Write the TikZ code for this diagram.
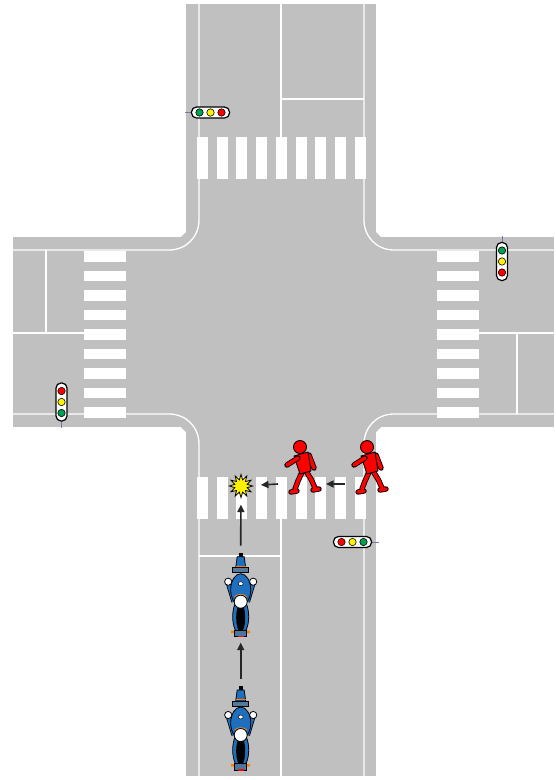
\documentclass[tikz,border=0pt]{standalone}
\usetikzlibrary{arrows.meta, shapes.geometric}
\definecolor{road}{RGB}{192,192,192}
\definecolor{lampgreen}{RGB}{0,160,80}
\definecolor{motoblue}{RGB}{30,112,190}
\definecolor{stemgray}{RGB}{120,120,160}

\tikzset{
  roadline/.style={white, line width=1.3pt},
  limb/.style={double=red, double distance=3.6pt, line width=0.9pt, line cap=round, line join=round},
  walkerbody/.style={fill=red, draw=black, line width=0.9pt, line join=round},
  motobody/.style={fill=motoblue, draw=black, line width=0.8pt},
  whitepart/.style={fill=white, draw=black, line width=0.8pt},
  flow/.style={-{Triangle[length=7.5pt,width=7pt]}, line width=1.6pt, black!85},
  % signal head, lamps counted from the stem side
  signal/.pic={
    \draw[stemgray, line width=0.8pt] (0,-19) -- (0,-26);
    \draw[fill=white, line width=1.2pt, rounded corners=5pt] (-5.5,-19) rectangle (5.5,19);
    \foreach \c/\p in {lampgreen/-11, yellow/0, red/11}
      \draw[fill=\c, line width=0.6pt] (0,\p) circle (3.7);
  },
  walker/.pic={
    \draw[limb] (9,8) -- (14,21);
    \draw[limb] (6,24) -- (11.5,33) -- (15,41) (13,43) -- (19,42);
    \draw[limb] (2,25) -- (-2,34) -- (-5,42) (-9,45) -- (-3,44);
    \draw[walkerbody] (-6,9) -- (8,5) -- (11,24) -- (0,27) -- cycle;
    \draw[limb] (-2,11) -- (-13,18);
    \draw[walkerbody] (0,0) circle (6.5);
    \coordinate (-ahead) at (-22,37);
    \coordinate (-behind) at (26,37);
  },
  moto/.pic={
    % rear half
    \draw[motobody] (0,15) ellipse (8 and 18);
    \fill[black] (0,16) ellipse (4.5 and 14.5);
    \fill[orange] (-9.5,29) rectangle (-6,31.5) (6,29) rectangle (9.5,31.5);
    \draw[fill=motoblue!55!gray, line width=0.6pt] (-6,28.5) rectangle (6,35);
    \fill[red] (-3,34) rectangle (3,35.5);
    % front fork and fairing
    \fill[black] (-1.8,-49) rectangle (1.8,-40);
    \draw[motobody] (-3.5,-45) -- (3.5,-45) -- (5,-34) -- (-5,-34) -- cycle;
    \draw[orange, line width=1pt] (-5,-35.5) -- (5,-35.5);
    \draw[fill=motoblue!45!gray, line width=0.8pt] (-8,-34) rectangle (8,-29);
    % rider
    \draw[double=motoblue, double distance=4pt, line width=0.8pt] (-12.5,-20) -- (-6.5,0) (12.5,-20) -- (6.5,0);
    \draw[motobody] (0,-12) ellipse (10 and 16);
    \draw[whitepart, line width=0.5pt] (0,-18) ellipse (2.5 and 2);
    \draw[orange, line width=1pt] (-6,-5) .. controls (-3,-8) and (3,-8) .. (6,-5);
    \draw[whitepart] (0,0) circle (6.5);
    \draw[whitepart] (-12.5,-20) circle (3.6) (12.5,-20) circle (3.6);
    \coordinate (-front) at (0,-56);
    \coordinate (-back) at (0,41);
  }
}

\begin{document}
\begin{tikzpicture}[x=1pt, y=-1pt]
  \useasboundingbox (0,0) rectangle (556,780);
  \fill[white] (0,0) rectangle (556,780);

  % roads, corners slightly cut
  \fill[road] (186,4) rectangle (376,776);
  \fill[road] (13,237) rectangle (554,427);
  \fill[road] (186,232) -- (181,237) -- (186,237) (376,232) -- (381,237) -- (376,237)
    (186,432) -- (181,427) -- (186,427) (376,432) -- (381,427) -- (376,427);

  % edge lines with rounded corners
  \draw[roadline] (199,4) -- (199,220) .. controls (199,237) and (186,250) .. (169,250) -- (13,250);
  \draw[roadline] (364,4) -- (364,220) .. controls (364,237) and (377,250) .. (394,250) -- (554,250);
  \draw[roadline] (13,414) -- (169,414) .. controls (186,414) and (199,427) .. (199,444) -- (199,776);
  \draw[roadline] (554,414) -- (394,414) .. controls (377,414) and (364,427) .. (364,444) -- (364,776);

  % centre and stop lines
  \draw[roadline] (281,4) -- (281,137) (281,99) -- (364,99);
  \draw[roadline] (281,519) -- (281,776) (199,556) -- (281,556);
  \draw[roadline] (13,333) -- (84,333) (46,250) -- (46,333);
  \draw[roadline] (479,333) -- (554,333) (517,333) -- (517,414);

  % zebra crossings
  \foreach \i in {0,...,8} {
    \fill[white] (197+\i*19.7,137) rectangle ++(11,42);
    \fill[white] (197+\i*19.7,477) rectangle ++(11,42);
    \fill[white] (84,251+\i*19.5) rectangle ++(42,10.5);
    \fill[white] (437,251+\i*19.5) rectangle ++(42,10.5);
  }

  % signals
  \pic[rotate=90] at (210.5,112.5) {signal};
  \pic at (502,261.5) {signal};
  \pic[rotate=180] at (61.5,402) {signal};
  \pic[rotate=-90] at (352.5,542) {signal};

  % road users
  \pic (m1) at (240.7,601.7) {moto};
  \pic (m2) at (240.7,735) {moto};
  \pic (w1) at (300,447) {walker};
  \pic (w2) at (367,447) {walker};
  \node (crash) [star, star points=12, star point ratio=1.8, minimum size=23pt, inner sep=0pt,
    fill=yellow, draw=black, line width=0.8pt] at (241,486) {};

  \draw[flow] (m2-front) -- (m1-back);
  \draw[flow, shorten >=6pt] (m1-front) -- (crash);
  \draw[flow] (w2-ahead) -- (w1-behind);
  \draw[flow, shorten >=9pt] (w1-ahead) -- (crash);
\end{tikzpicture}
\end{document}
